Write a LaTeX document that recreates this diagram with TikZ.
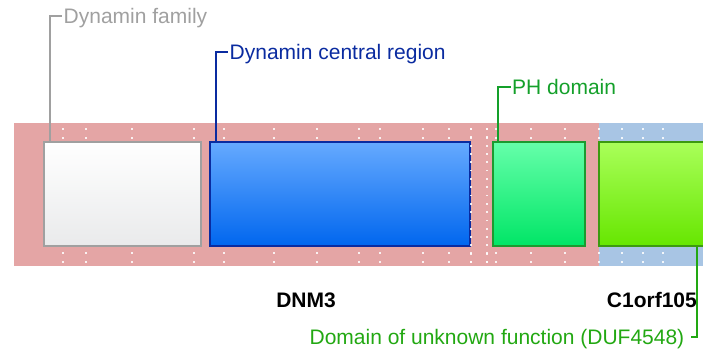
\documentclass[tikz,border=0pt]{standalone}
\usepackage{fontspec}
\setmainfont{Liberation Sans}
\usetikzlibrary{calc}
\definecolor{bandpink}{HTML}{E4A5A5}
\definecolor{bandblue}{HTML}{A8C5E4}
\definecolor{famgray}{HTML}{A0A0A0}
\definecolor{famlow}{HTML}{E9EAEB}
\definecolor{cenblue}{HTML}{0A2BA0}
\definecolor{centop}{HTML}{66AAFF}
\definecolor{cenlow}{HTML}{0066EE}
\definecolor{phgreen}{HTML}{1C9A30}
\definecolor{phtop}{HTML}{66FFAA}
\definecolor{phlow}{HTML}{00E566}
\definecolor{dufgreen}{HTML}{3C9A10}
\definecolor{duftop}{HTML}{AAFF5A}
\definecolor{duflow}{HTML}{66E600}
\definecolor{phtext}{HTML}{14A02A}
\definecolor{duftext}{HTML}{22A812}
\tikzset{
  dom/.style={rectangle, inner sep=0pt, line width=2pt, minimum height=104.6pt},
  lbl/.style={inner sep=0pt, font=\fontsize{21}{25}\selectfont},
  gene/.style={inner sep=0pt, font=\fontsize{21}{25}\selectfont\bfseries, text=black},
  lead/.style={line width=2pt},
  dot/.style={fill=white, fill opacity=0.85, draw=none}
}
\begin{document}
\begin{tikzpicture}[x=1pt, y=-1pt]
\useasboundingbox (0,0) rectangle (703,350);
\clip (0,0) rectangle (703,350);
% bands
\fill[bandpink] (14,123) rectangle (599,265.7);
\fill[bandblue] (599,123) rectangle (703,265.7);
% dots rows
\foreach \x in {62.7,86,131.7,194,224.3,273.7,317.3,359,380,422.7,449,470.7,486.7,495.7,531,565,599,622.3,642.7,662.7}{
  \foreach \y in {129,137.7,253.3,261.7}{
    \fill[dot] (\x-0.9,\y-0.9) rectangle (\x+0.9,\y+0.9);
  }
}
\foreach \i in {0,...,16}{
  \fill[dot] (486.7-0.9,129+8.3125*\i-0.9) rectangle (486.7+0.9,129+8.3125*\i+0.9);
}
% domain boxes
\node[dom, draw=famgray, top color=white, middle color=white, bottom color=famlow, minimum width=156.7pt] (fam) at (122.65,194) {};
\node[dom, draw=cenblue, top color=centop, bottom color=cenlow, minimum width=259.4pt] (cen) at (340,194) {};
\node[dom, draw=phgreen, top color=phtop, bottom color=phlow, minimum width=92.6pt] (ph) at (539,194) {};
\node[dom, draw=dufgreen, top color=duftop, bottom color=duflow, minimum width=180.7pt] (duf) at (689.65,194) {};
\foreach \i in {0,...,16}{
  \fill[dot] (470.7-0.9,129+8.3125*\i-0.9) rectangle (470.7+0.9,129+8.3125*\i+0.9);
}
% labels
\node[lbl, text=famgray, anchor=base west] (famtxt) at (63.5,24) {Dynamin family};
\node[lbl, text=cenblue, anchor=base west] (centxt) at (229.5,60) {Dynamin central region};
\node[lbl, text=phtext, anchor=base west] (phtxt) at (512,95) {PH domain};
\node[lbl, text=duftext, anchor=base east] (duftxt) at (684.5,344) {Domain of unknown function (DUF4548)};
% leaders
\draw[lead, famgray] ([xshift=6.7pt]fam.north west) |- ([shift={(-1.8pt,8.3pt)}]famtxt.base west);
\draw[lead, cenblue] ([xshift=6.7pt]cen.north west) |- ([shift={(-1.5pt,8.3pt)}]centxt.base west);
\draw[lead, phtext] ([xshift=6.3pt]ph.north west) |- ([shift={(-1.3pt,7.7pt)}]phtxt.base west);
\draw[lead, duftext] (duf.south west -| 696.7,0) |- ([shift={(6.2pt,7.3pt)}]duftxt.base east);
% gene names
\node[gene, anchor=base] (dnm) at (306,307) {DNM3};
\node[gene, anchor=base east] (corf) at (697,307) {C1orf105};
\end{tikzpicture}
\end{document}
